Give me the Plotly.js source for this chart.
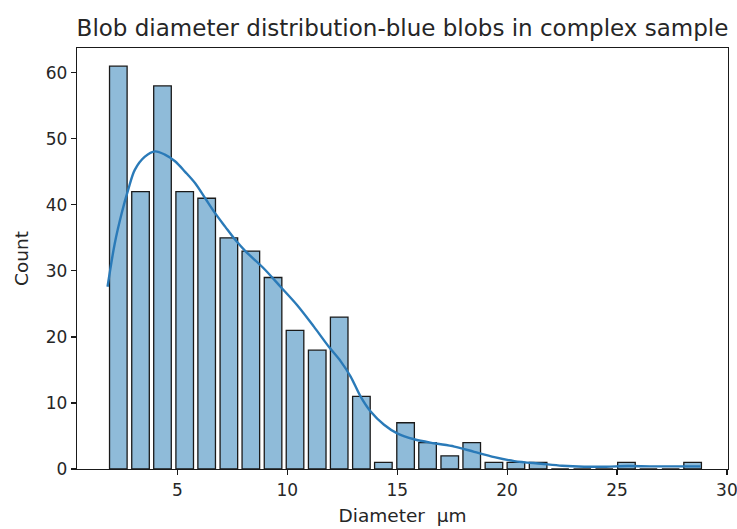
<!DOCTYPE html>
<html>
<head>
<meta charset="utf-8">
<script src="https://cdn.plot.ly/plotly-3.0.1.min.js"></script>
<style>html,body{margin:0;padding:0;background:#fff;}#chart{width:737px;height:529px;}</style>
</head>
<body>
<div id="chart"></div>
<script>
// Histogram bins (centres, µm) and counts
const binCenters = [2.31, 3.32, 4.32, 5.33, 6.33, 7.34, 8.34, 9.35, 10.35, 11.36, 12.36, 13.37, 14.37, 15.38, 16.38, 17.39, 18.39, 19.40, 20.40, 21.41, 22.41, 23.42, 24.42, 25.43, 26.43, 27.44, 28.44];
const counts     = [61, 42, 58, 42, 41, 35, 33, 29, 21, 18, 23, 11, 1, 7, 4, 2, 4, 1, 1, 1, 0, 0, 0, 1, 0, 0, 1];

// KDE curve
const kdeX = [1.82, 2.15, 2.46, 2.76, 3.06, 3.52, 3.98, 4.43, 4.89, 5.35, 5.8, 6.26, 6.72, 7.17, 7.63, 8.09, 8.92, 9.69, 10.45, 11.2, 11.89, 12.43, 12.88, 13.33, 13.79, 14.4, 15.0, 15.77, 16.68, 17.6, 18.5, 19.42, 20.33, 21.55, 22.5, 23.5, 24.5, 25.5, 26.5, 27.5, 28.8];
const kdeY = [27.6, 34.2, 38.7, 42.3, 45.3, 47.3, 48.1, 47.6, 46.6, 45.0, 43.3, 41.0, 38.7, 36.7, 34.7, 33.0, 30.4, 27.6, 24.8, 21.6, 18.5, 16.3, 14.0, 11.0, 8.7, 6.7, 5.4, 4.5, 3.9, 3.4, 2.6, 1.8, 1.2, 0.8, 0.5, 0.35, 0.35, 0.45, 0.4, 0.4, 0.4];

const xTicks = [5, 10, 15, 20, 25, 30];
const yTicks = [0, 10, 20, 30, 40, 50, 60];

const titleText = 'Blob diameter distribution-blue blobs in complex sample';
const xTitle = 'Diameter  µm';
const yTitle = 'Count';

const font = 'DejaVu Sans, sans-serif';
const txt = '#262626';

const traces = [
  {
    type: 'bar', x: binCenters, y: counts, width: 0.80,
    marker: {color: 'rgba(31,119,180,0.5)', line: {color: '#1a1a1a', width: 1.3}},
    hoverinfo: 'x+y', showlegend: false
  },
  {
    type: 'scatter', mode: 'lines', x: kdeX, y: kdeY,
    line: {color: '#2a7ab8', width: 2.4, shape: 'spline', smoothing: 0.9},
    showlegend: false
  }
];

const axisCommon = {
  showline: true, linecolor: '#1a1a1a', linewidth: 1.2, mirror: true,
  ticks: 'outside', ticklen: 5, tickwidth: 1.2, tickcolor: '#1a1a1a',
  showgrid: false, zeroline: false, ticklabeloverflow: 'allow',
  tickfont: {family: font, size: 17, color: txt}
};

const layout = {
  width: 737, height: 529,
  margin: {l: 77, r: 9, t: 48, b: 60, pad: 0},
  paper_bgcolor: '#fff', plot_bgcolor: '#fff',
  title: {
    text: titleText, font: {family: font, size: 23, color: txt},
    x: 0.5, xref: 'paper', xanchor: 'center',
    y: 1, yref: 'paper', yanchor: 'bottom', pad: {b: 12}
  },
  xaxis: Object.assign({}, axisCommon, {
    range: [0.43, 30.05], tickvals: xTicks, ticktext: xTicks.map(String),
    title: {text: xTitle, font: {family: font, size: 18.5, color: txt}, standoff: 10}
  }),
  yaxis: Object.assign({}, axisCommon, {
    range: [0, 63.75], tickvals: yTicks, ticktext: yTicks.map(String),
    title: {text: yTitle, font: {family: font, size: 18.5, color: txt}, standoff: 12}
  }),
  bargap: 0
};

Plotly.newPlot('chart', traces, layout, {displayModeBar: false, staticPlot: true});
</script>
</body>
</html>
